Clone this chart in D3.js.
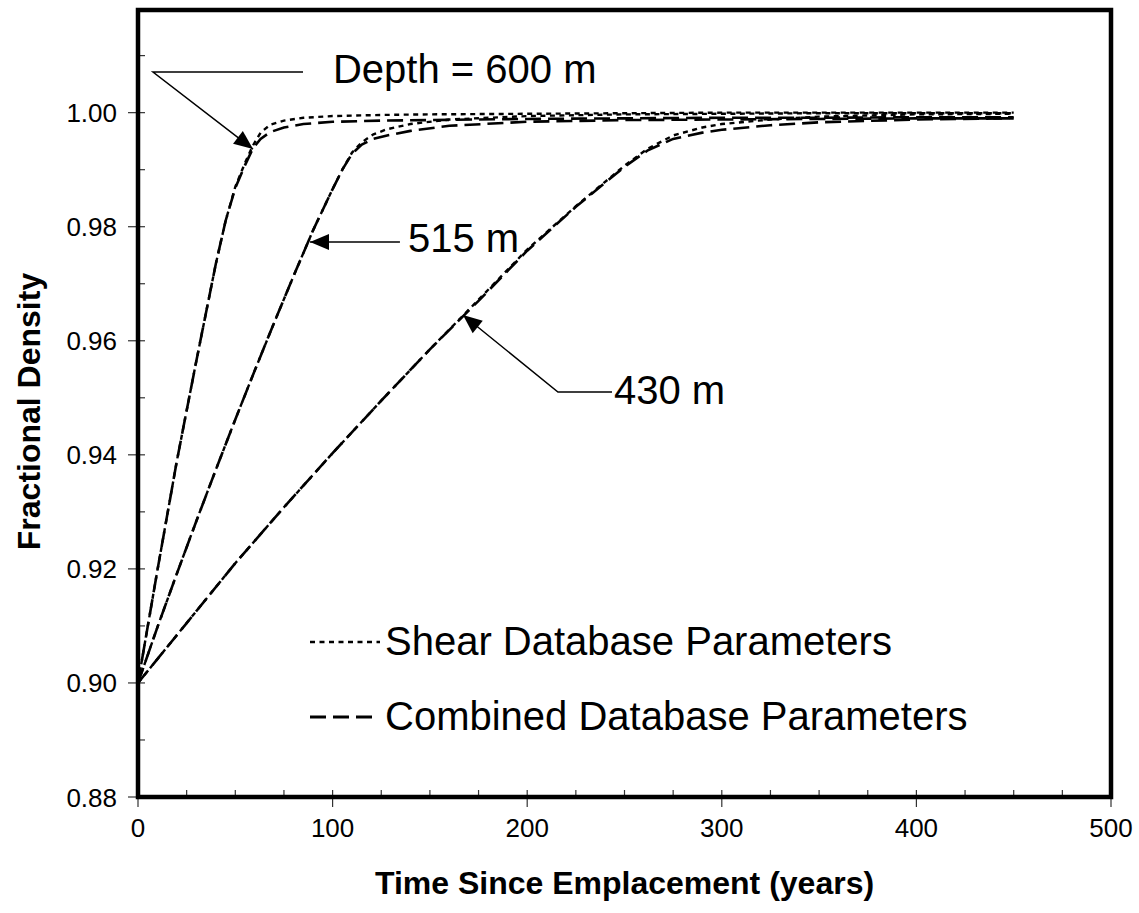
<!DOCTYPE html>
<html><head><meta charset="utf-8">
<script src="https://cdn.jsdelivr.net/npm/d3@7"></script>
<style>body{margin:0;background:#fff}svg{display:block}text{font-family:"Liberation Sans",Arial,sans-serif;fill:#000}</style>
</head><body><svg id="c" width="1139" height="913"></svg>
<script>
// ---- data ----
const t600 = [0, 10, 20, 30, 40, 45, 50, 55, 59, 63, 68, 75, 85, 100, 125, 150, 200, 250, 300, 350, 400, 450];
const shear600 = [0.900, 0.9198, 0.9390, 0.9565, 0.9735, 0.9810, 0.9870, 0.9912, 0.9942, 0.9965, 0.9979, 0.9986, 0.9991, 0.9994, 0.9996, 0.9997, 0.9998, 0.9999, 1.0, 1.0, 1.0, 1.0];
const comb600  = [0.900, 0.9198, 0.9390, 0.9565, 0.9735, 0.9810, 0.9868, 0.9908, 0.9937, 0.9954, 0.9966, 0.9974, 0.9980, 0.9984, 0.9986, 0.9987, 0.9989, 0.9990, 0.9991, 0.9991, 0.9992, 0.9992];
const t515 = [0, 10, 20, 30, 40, 50, 60, 70, 80, 90, 100, 105, 110, 115, 121, 128, 140, 160, 200, 250, 300, 350, 400, 450];
const shear515 = [0.900, 0.9098, 0.9192, 0.9284, 0.9374, 0.9462, 0.9548, 0.9632, 0.9714, 0.9794, 0.9866, 0.9900, 0.9930, 0.9948, 0.9962, 0.9971, 0.9980, 0.9988, 0.9994, 0.9997, 0.9998, 0.9999, 0.9999, 0.9999];
const comb515  = [0.900, 0.9098, 0.9192, 0.9284, 0.9374, 0.9462, 0.9548, 0.9632, 0.9714, 0.9794, 0.9866, 0.9900, 0.9928, 0.9944, 0.9954, 0.9960, 0.9968, 0.9977, 0.9984, 0.9987, 0.9988, 0.9989, 0.9990, 0.9990];
const t430 = [0, 25, 50, 75, 100, 125, 150, 175, 200, 225, 250, 262, 275, 290, 300, 325, 350, 400, 450];
const shear430 = [0.900, 0.9105, 0.9210, 0.9308, 0.9403, 0.9495, 0.9585, 0.9672, 0.9760, 0.9836, 0.9907, 0.9937, 0.9960, 0.9974, 0.9980, 0.9988, 0.9993, 0.9997, 0.9998];
const comb430  = [0.900, 0.9105, 0.9210, 0.9308, 0.9403, 0.9495, 0.9585, 0.9670, 0.9758, 0.9835, 0.9905, 0.9934, 0.9954, 0.9965, 0.9970, 0.9978, 0.9983, 0.9988, 0.9990];
const xTicks = [0, 100, 200, 300, 400, 500];
const yTicks = [0.88, 0.90, 0.92, 0.94, 0.96, 0.98, 1.00];
const xTitle = "Time Since Emplacement (years)";
const yTitle = "Fractional Density";
const legendLabels = ["Shear Database Parameters", "Combined Database Parameters"];
const annotations = [
  {label: "Depth = 600 m", text: [100.2, 1.0052], path: [[84.8, 1.00713], [7.7, 1.00713], [59.1, 0.99362]]},
  {label: "515 m", text: [138.7, 0.97557], path: [[134.6, 0.97732], [88.4, 0.97732]]},
  {label: "430 m", text: [244.6, 0.94891], path: [[243.6, 0.95101], [215.8, 0.95101], [167, 0.96452]]}
];

// ---- layout ----
const svg = d3.select("#c");
const L = 138, R = 1111, T = 10, B = 797;
const x = d3.scaleLinear().domain([0, 500]).range([L, R]);
const y = d3.scaleLinear().domain([0.88, 1.018]).range([B, T]);

svg.append("rect").attr("width", 1139).attr("height", 913).attr("fill", "#fff");

const g = svg.append("g");
d3.range(0, 501, 25).forEach(v => {
  g.append("line").attr("x1", x(v)).attr("x2", x(v)).attr("y1", B).attr("y2", B - 7).attr("stroke", "#333").attr("stroke-width", 1.2);
});
xTicks.forEach(v => {
  g.append("line").attr("x1", x(v)).attr("x2", x(v)).attr("y1", B).attr("y2", B + 10).attr("stroke", "#333").attr("stroke-width", 1.2);
  g.append("text").attr("x", x(v)).attr("y", 837).attr("text-anchor", "middle").attr("font-size", 26).text(v);
});
d3.range(0.88, 1.0151, 0.01).forEach(v => {
  g.append("line").attr("x1", L).attr("x2", L + 7).attr("y1", y(v)).attr("y2", y(v)).attr("stroke", "#333").attr("stroke-width", 1.2);
});
yTicks.forEach(v => {
  g.append("line").attr("x1", L - 10).attr("x2", L).attr("y1", y(v)).attr("y2", y(v)).attr("stroke", "#333").attr("stroke-width", 1.2);
  g.append("text").attr("x", 117).attr("y", y(v) + 9.5).attr("text-anchor", "end").attr("font-size", 26).text(v.toFixed(2));
});

// curves
const line = d3.line().x(d => x(d[0])).y(d => y(d[1]));
const series = [
  [t600, comb600, "comb"], [t515, comb515, "comb"], [t430, comb430, "comb"],
  [t600, shear600, "shear"], [t515, shear515, "shear"], [t430, shear430, "shear"]
];
series.forEach(([ts, vs, kind]) => {
  svg.append("path").datum(ts.map((t, i) => [t, vs[i]])).attr("d", line)
    .attr("fill", "none").attr("stroke", "#000")
    .attr("stroke-width", kind === "comb" ? 2.6 : 2.4)
    .attr("stroke-dasharray", kind === "comb" ? "16,7" : "5,4.5");
});

// frame
svg.append("rect").attr("x", L).attr("y", T).attr("width", R - L).attr("height", B - T)
  .attr("fill", "none").attr("stroke", "#000").attr("stroke-width", 4.5);

// annotations
annotations.forEach(a => {
  const pts = a.path.map(p => [x(p[0]), y(p[1])]);
  svg.append("path").attr("d", d3.line()(pts)).attr("fill", "none").attr("stroke", "#000").attr("stroke-width", 1.5);
  const n = pts.length, tip = pts[n - 1], prev = pts[n - 2];
  const ang = Math.atan2(tip[1] - prev[1], tip[0] - prev[0]);
  const len = 19, hw = 8;
  const bx = tip[0] - len * Math.cos(ang), by = tip[1] - len * Math.sin(ang);
  const px = -Math.sin(ang) * hw, py = Math.cos(ang) * hw;
  svg.append("path").attr("d", `M${tip[0]},${tip[1]}L${bx + px},${by + py}L${bx - px},${by - py}Z`).attr("fill", "#000");
  svg.append("text").attr("x", x(a.text[0])).attr("y", y(a.text[1])).attr("font-size", 40).text(a.label);
});

// legend
const leg = [[642, 655, "5,4.5", 2.6, 380], [717, 730, "16,7", 3, 373]];
leg.forEach((l, i) => {
  svg.append("line").attr("x1", 310).attr("x2", l[4]).attr("y1", l[0]).attr("y2", l[0])
    .attr("stroke", "#000").attr("stroke-width", l[3]).attr("stroke-dasharray", l[2]);
  svg.append("text").attr("x", 385).attr("y", l[1]).attr("font-size", 40).text(legendLabels[i]);
});

// titles
svg.append("text").attr("x", (L + R) / 2).attr("y", 894).attr("text-anchor", "middle")
  .attr("font-size", 32).attr("font-weight", "bold").text(xTitle);
svg.append("text").attr("transform", `translate(40,${(T + B) / 2 + 8}) rotate(-90)`).attr("text-anchor", "middle")
  .attr("font-size", 32).attr("font-weight", "bold").text(yTitle);
</script></body></html>
